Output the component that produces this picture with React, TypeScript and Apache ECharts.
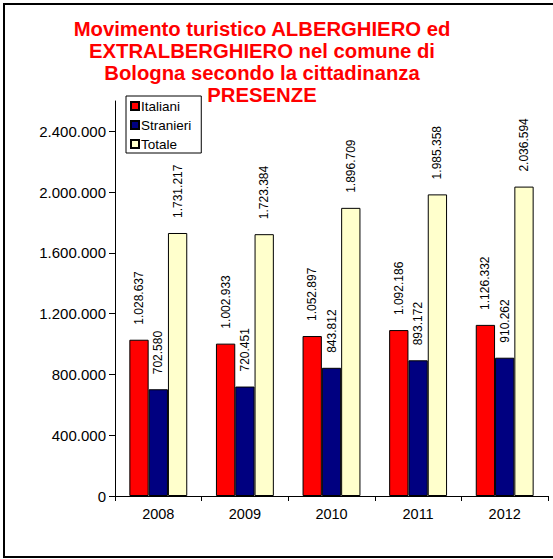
import React, { useEffect, useRef } from "react";
import * as echarts from "echarts";

const years = ["2008", "2009", "2010", "2011", "2012"];
const italiani = [1028637, 1002933, 1052897, 1092186, 1126332];
const stranieri = [702580, 720451, 843812, 893172, 910262];
const totale = [1731217, 1723384, 1896709, 1985358, 2036594];
const yTicks = [0, 400000, 800000, 1200000, 1600000, 2000000, 2400000];
const seriesNames = ["Italiani", "Stranieri", "Totale"];
const titleLines = [
  "Movimento turistico ALBERGHIERO ed",
  "EXTRALBERGHIERO nel comune di",
  "Bologna secondo la cittadinanza",
  "PRESENZE",
];

const fmt = (n: number) => String(n).replace(/\B(?=(\d{3})+(?!\d))/g, ".");
const FONT = "Arial, 'Liberation Sans', sans-serif";

export default function App() {
  const ref = useRef<HTMLDivElement>(null);
  useEffect(() => {
    if (!ref.current) return;
    const chart = echarts.init(ref.current, undefined, { renderer: "svg" });
    const colors = ["#FF0000", "#000080", "#FFFFCC"];
    const datas = [italiani, stranieri, totale];
    chart.setOption({
      animation: false,
      backgroundColor: "#ffffff",
      textStyle: { fontFamily: FONT },
      graphic: [
        {
          type: "rect",
          shape: { x: 4, y: 4, width: 600, height: 553 },
          style: { fill: "none", stroke: "#000", lineWidth: 2 },
          silent: true,
        },
        {
          type: "text",
          x: 262,
          y: 18.5,
          style: {
            text: titleLines.join("\n"),
            fill: "#FF0000",
            font: `bold 20.3px ${FONT}`,
            lineHeight: 21.8,
            align: "center",
            verticalAlign: "top",
          },
        },
      ],
      legend: {
        data: seriesNames,
        orient: "vertical",
        left: 126,
        top: 96,
        itemWidth: 8,
        itemHeight: 8,
        itemGap: 5,
        icon: "rect",
        borderColor: "#000",
        borderWidth: 1,
        padding: [3, 10, 2, 4],
        textStyle: { fontSize: 13.5, color: "#000", fontFamily: FONT, padding: [0, 0, 0, -3] },
      },
      grid: { left: 115, right: 5, top: 101, bottom: 63, containLabel: false },
      xAxis: {
        type: "category",
        data: years,
        axisLine: { lineStyle: { color: "#000", width: 1 } },
        axisTick: { show: true, length: 5, lineStyle: { color: "#000" } },
        axisLabel: { color: "#000", fontSize: 14.5, margin: 10, fontFamily: FONT },
      },
      yAxis: {
        type: "value",
        min: 0,
        max: 2600000,
        interval: 400000,
        splitLine: { show: false },
        axisLine: { show: true, lineStyle: { color: "#000", width: 1 } },
        axisTick: { show: true, length: 6, lineStyle: { color: "#000" }, customValues: yTicks },
        axisLabel: {
          color: "#000",
          fontSize: 15,
          margin: 9,
          fontFamily: FONT,
          customValues: yTicks,
          formatter: (v: number) => fmt(v),
        },
      },
      series: seriesNames.map((name, i) => ({
        name,
        type: "bar",
        data: datas[i],
        barWidth: 19.3,
        barGap: "0%",
        itemStyle: { color: colors[i], borderColor: "#000", borderWidth: 1 },
        label: {
          show: true,
          position: "top",
          distance: 15,
          rotate: 90,
          align: "left",
          verticalAlign: "middle",
          fontSize: 12,
          color: "#000",
          fontFamily: FONT,
          formatter: (p: any) => fmt(p.value),
        },
      })),
    });
    return () => chart.dispose();
  }, []);
  return (
    <div
      ref={ref}
      style={{ position: "absolute", left: 0, top: 0, width: 553, height: 559 }}
    />
  );
}
